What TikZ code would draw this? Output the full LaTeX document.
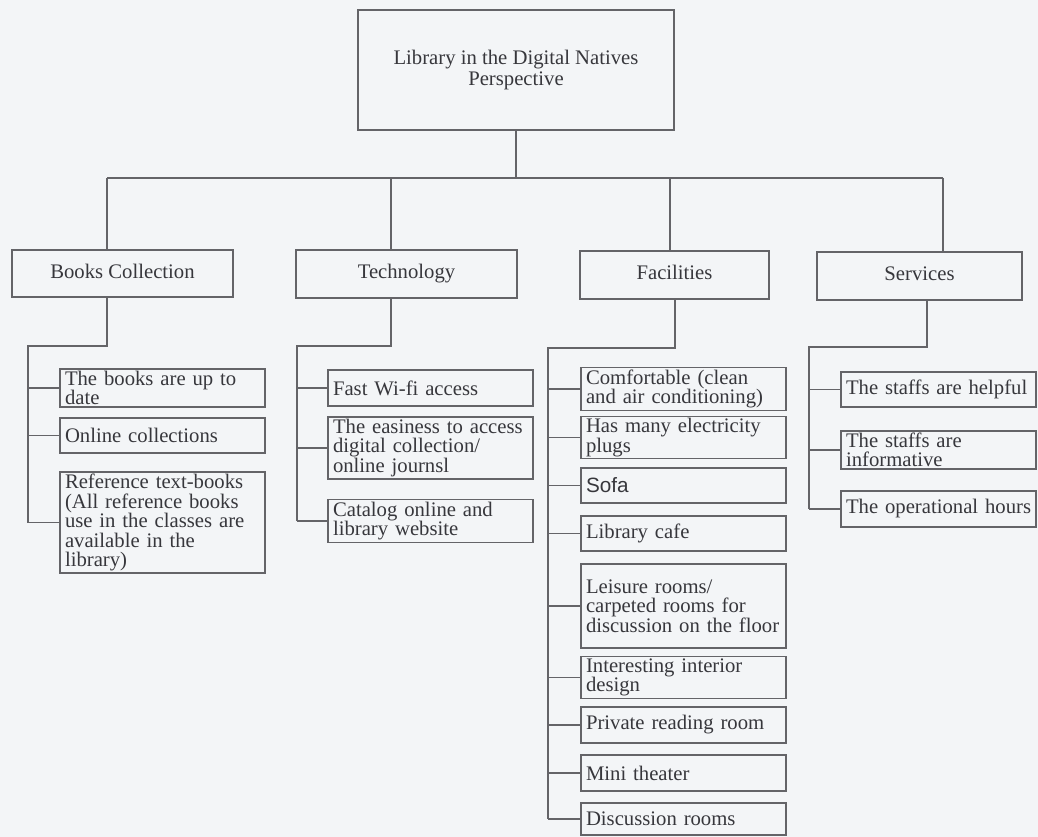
\documentclass[tikz,border=0pt]{standalone}
\usepackage{fontspec}
\setmainfont{Liberation Serif}
\newfontfamily\sofafont{Liberation Sans}
\definecolor{paper}{RGB}{243,245,247}
\definecolor{linecol}{RGB}{100,100,104}
\definecolor{txtcol}{RGB}{55,55,60}
\begin{document}
\begin{tikzpicture}[x=1pt,y=-1pt,
  every node/.style={font=\fontsize{20.7}{19.5}\selectfont, text=txtcol},
  boxbase/.style={draw=linecol, line width=1.3pt, inner ysep=2pt},
  topbox/.style={boxbase, align=center, minimum width=316pt, minimum height=120pt, font=\fontsize{20.7}{21}\selectfont},
  catbox/.style={boxbase, align=center, minimum height=48pt, text height=0.95em, text depth=0pt},
  itembox/.style={boxbase, align=left, inner xsep=5pt, text width=195pt},
  srvbox/.style={boxbase, align=left, inner xsep=5pt, text width=185pt},
  link/.style={draw=linecol, line width=1.3pt}
]
\useasboundingbox (0,0) rectangle (1038,837);
\fill[paper] (0,0) rectangle (1038,837);

% root
\node[topbox] (root) at (516,70) {Library in the Digital Natives\\Perspective};

% categories
\node[catbox, minimum width=221pt, minimum height=47pt] (books) at (122.5,273.5) {Books Collection};
\node[catbox, minimum width=221pt] (tech) at (406.5,274) {Technology};
\node[catbox, minimum width=189pt] (fac) at (674.5,275) {Facilities};
\node[catbox, minimum width=205pt] (serv) at (919.5,276) {Services};

% books items
\node[itembox, minimum height=36pt] (b1) at (162.5,388) {The books are up to\\date};
\node[itembox, minimum height=35pt] (b2) at (162.5,435.5) {Online collections};
\node[itembox, minimum height=101pt] (b3) at (162.5,522.5) {Reference text-books\\(All reference books\\use in the classes are\\available in the\\library)};

% technology items
\node[itembox, minimum height=36pt] (t1) at (430.5,388) {Fast Wi-fi access};
\node[itembox, minimum height=60pt] (t2) at (430.5,448) {The easiness to access\\digital collection/\\online journsl};
\node[itembox, minimum height=38pt] (t3) at (430.5,521) {Catalog online and\\library website};

% facilities items
\node[itembox, minimum height=36pt] (f1) at (683.5,389) {Comfortable (clean\\and air conditioning)};
\node[itembox, minimum height=37pt] (f2) at (683.5,437.5) {Has many electricity\\plugs};
\node[itembox, minimum height=35pt] (f3) at (683.5,485.5) {\sofafont Sofa};
\node[itembox, minimum height=35pt] (f4) at (683.5,533.5) {Library cafe};
\node[itembox, minimum height=84pt] (f5) at (683.5,606) {Leisure rooms/\\carpeted rooms for\\discussion on the floor};
\node[itembox, minimum height=37pt] (f6) at (683.5,677.5) {Interesting interior\\design};
\node[itembox, minimum height=36pt] (f7) at (683.5,725) {Private reading room};
\node[itembox, minimum height=36pt] (f8) at (683.5,773) {Mini theater};
\node[itembox, minimum height=32pt] (f9) at (683.5,819) {Discussion rooms};

% services items
\node[srvbox, minimum height=35pt] (s1) at (938.5,389.5) {\mbox{The staffs are helpful}};
\node[srvbox, minimum height=36pt] (s2) at (938.5,450) {The staffs are\\informative};
\node[srvbox, minimum height=36pt] (s3) at (938.5,509) {\mbox{The operational hours}};

% bus
\coordinate (busL) at (107,178);
\coordinate (busT) at (391,178);
\coordinate (busF) at (670,178);
\coordinate (busR) at (943,178);
\draw[link] (root.south) -- (root.south |- busL);
\draw[link] (busL) -- (busR);
\draw[link] (busL) -- (busL |- books.north);
\draw[link] (busT) -- (busT |- tech.north);
\draw[link] (busF) -- (busF |- fac.north);
\draw[link] (busR) -- (busR |- serv.north);

% books trunk
\coordinate (bkd) at (107,346);
\coordinate (bkt) at (28,346);
\draw[link] (bkd |- books.south) -- (bkd) -- (bkt) -- (bkt |- b3.west);
\foreach \c in {b1,b2,b3} \draw[link] (bkt |- \c.west) -- (\c.west);

% technology trunk
\coordinate (tkd) at (391,346);
\coordinate (tkt) at (297,346);
\draw[link] (tkd |- tech.south) -- (tkd) -- (tkt) -- (tkt |- t3.west);
\foreach \c in {t1,t2,t3} \draw[link] (tkt |- \c.west) -- (\c.west);

% facilities trunk
\coordinate (fkd) at (675,348);
\coordinate (fkt) at (548,348);
\draw[link] (fkd |- fac.south) -- (fkd) -- (fkt) -- (fkt |- f9.west);
\foreach \c in {f1,f2,f3,f4,f5,f6,f7,f8,f9} \draw[link] (fkt |- \c.west) -- (\c.west);

% services trunk
\coordinate (skd) at (927,347);
\coordinate (skt) at (809,347);
\draw[link] (skd |- serv.south) -- (skd) -- (skt) -- (skt |- s3.west);
\foreach \c in {s1,s2,s3} \draw[link] (skt |- \c.west) -- (\c.west);
\end{tikzpicture}
\end{document}
